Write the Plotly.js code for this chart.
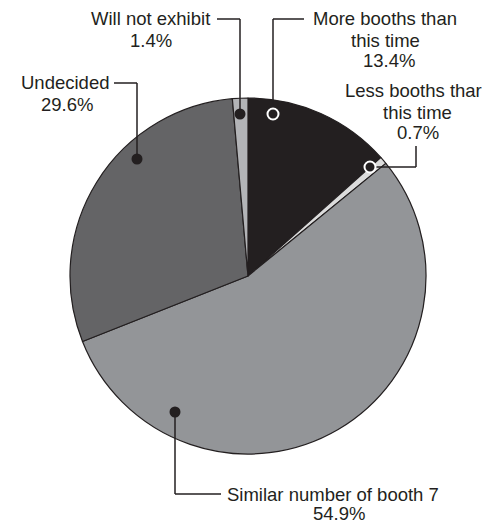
<!DOCTYPE html>
<html>
<head>
<meta charset="utf-8">
<script src="https://cdn.plot.ly/plotly-3.0.1.min.js"></script>
<style>html,body{margin:0;padding:0;background:#fff;}#chart{width:501px;height:524px;}</style>
</head>
<body>
<div id="chart"></div>
<script>
const categories = ["More booths than this time", "Less booths thar this time", "Similar number of booth 7", "Undecided", "Will not exhibit"];
const values = [13.4, 0.7, 54.9, 29.6, 1.4];
const percentLabels = ["13.4%", "0.7%", "54.9%", "29.6%", "1.4%"];
const sliceColors = ["#231f20", "#dcdcdc", "#939598", "#646466", "#b3b4b7"];

const W = 501, H = 524;
const px = x => x / W;
const py = y => 1 - y / H;
const ink = "#231f20";
const fnt = {family: "Liberation Sans, Arial, sans-serif", size: 18.5, color: ink};

function txt(text, x, y, xanchor) {
  return {text: text, x: px(x), y: py(y), xref: "paper", yref: "paper",
          xanchor: xanchor, yanchor: "middle", showarrow: false, font: fnt};
}
function seg(x0, y0, x1, y1, color) {
  return {type: "line", xref: "paper", yref: "paper", x0: px(x0), y0: py(y0), x1: px(x1), y1: py(y1),
          line: {color: color || ink, width: 1.5}};
}
function dot(x, y, r, fill, lineColor, lw) {
  return {type: "circle", xref: "paper", yref: "paper", x0: px(x - r), x1: px(x + r), y0: py(y + r), y1: py(y - r),
          fillcolor: fill, line: {color: lineColor, width: lw}};
}

const annotations = [
  txt("Will not exhibit", 212, 19, "right"),
  txt(percentLabels[4], 151, 40, "center"),
  txt("More booths than", 311, 19, "left"),
  txt("this time", 385, 40, "center"),
  txt(percentLabels[0], 389, 61, "center"),
  txt("Undecided", 111, 83, "right"),
  txt(percentLabels[3], 67, 104, "center"),
  txt("Less booths thar", 413, 90, "center"),
  txt("this time", 417, 112, "center"),
  txt(percentLabels[1], 418, 133, "center"),
  txt("Similar number of booth 7", 225, 494, "left"),
  txt(percentLabels[2], 339, 513, "center")
];

const shapes = [
  seg(240, 114, 240, 19), seg(240, 19, 217, 19),
  seg(273, 114, 273, 19), seg(273, 19, 304, 19),
  seg(137, 159, 137, 83), seg(137, 83, 114, 83),
  seg(370, 167, 416, 167), seg(416, 167, 416, 146),
  seg(175, 412, 175, 494), seg(175, 494, 221, 494),
  dot(240, 114, 5.5, ink, ink, 0),
  dot(137, 159, 5.5, ink, ink, 0),
  dot(175, 412, 5.5, ink, ink, 0),
  dot(273, 114, 5.5, ink, "#ffffff", 2),
  dot(370, 167, 5.5, ink, "#ffffff", 2)
];

const data = [{
  type: "pie",
  labels: categories,
  values: values,
  sort: false,
  direction: "clockwise",
  rotation: 0,
  textinfo: "none",
  hoverinfo: "label+percent",
  marker: {colors: sliceColors, line: {color: ink, width: 1.2}},
  domain: {x: [px(70), px(426)], y: [py(454), py(98)]},
  showlegend: false
}];

const layout = {
  width: W, height: H,
  margin: {l: 0, r: 0, t: 0, b: 0},
  paper_bgcolor: "#ffffff",
  showlegend: false,
  annotations: annotations,
  shapes: shapes
};

Plotly.newPlot("chart", data, layout, {displayModeBar: false, staticPlot: true});
</script>
</body>
</html>
